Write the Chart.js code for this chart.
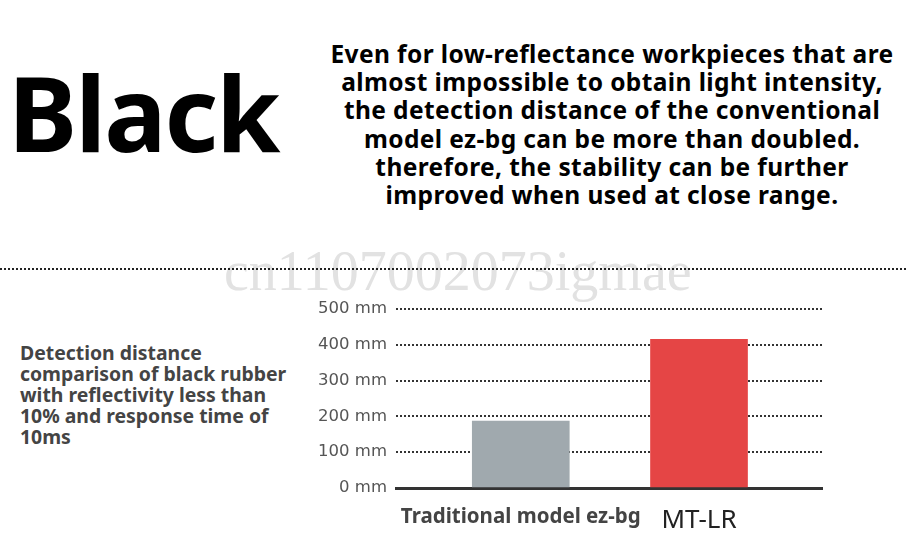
<!DOCTYPE html>
<html>
<head>
<meta charset="utf-8">
<script src="https://cdn.jsdelivr.net/npm/chart.js@4.4.0/dist/chart.umd.min.js"></script>
<style>
  html, body { margin:0; padding:0; background:#fff; }
  body { width:919px; height:544px; position:relative; overflow:hidden; font-family:"Noto Sans", sans-serif; }
  #big { position:absolute; left:8px; top:60px; font-size:104px; font-weight:700; color:#000; letter-spacing:-2px; line-height:1; }
  #head { position:absolute; left:262px; width:700px; top:40px; text-align:center; font-size:24.5px; font-weight:700; line-height:28.2px; color:#000; letter-spacing:0.4px; white-space:nowrap; }
  #side { position:absolute; left:20px; top:342px; width:300px; font-size:19.4px; font-weight:700; line-height:21px; color:#444; white-space:nowrap; }
  #wm { position:absolute; left:224px; top:239px; font-family:"Liberation Serif", serif; font-size:56px; color:#e2e2e2; white-space:nowrap; }
  #sep { position:absolute; left:0; top:268px; width:906px; border-top:2px dotted #222; }
  #wrap { position:absolute; left:300px; top:290px; width:540px; height:254px; }
</style>
</head>
<body>
<div id="big">Black</div>
<div id="head">Even for low-reflectance workpieces that are<br>almost impossible to obtain light intensity,<br>the detection distance of the conventional<br>model ez-bg can be more than doubled.<br>therefore, the stability can be further<br>improved when used at close range.</div>
<div id="side">Detection distance<br>comparison of black rubber<br>with reflectivity less than<br>10% and response time of<br>10ms</div>
<div id="wm">cn1107002073igmae</div>
<div id="sep"></div>
<div id="wrap"><canvas id="c"></canvas></div>
<script>
const categories = ["Traditional model ez-bg", "MT-LR"];
const distances = [187, 415];
const barColors = ["#a0a9ae", "#e54545"];
const yTicks = [0, 100, 200, 300, 400, 500];

new Chart(document.getElementById('c'), {
  type: 'bar',
  data: {
    datasets: [{
      data: distances.map((v, i) => ({ x: i, y: v })),
      backgroundColor: barColors,
      borderWidth: 0,
      barThickness: 97
    }]
  },
  options: {
    responsive: true,
    maintainAspectRatio: false,
    animation: false,
    layout: { padding: { top: 16, right: 18, left: 0, bottom: 0 } },
    plugins: { legend: { display: false }, tooltip: { enabled: false } },
    scales: {
      x: {
        type: 'linear',
        offset: false,
        bounds: 'data',
        min: -0.7,
        max: 1.69,
        afterBuildTicks: s => { s.ticks = categories.map((c, i) => ({ value: i })); },
        afterFit: s => { s.height = 56; },
        grid: { display: false, drawTicks: false, offset: false },
        border: { display: true, color: '#333', width: 3 },
        ticks: {
          padding: 17,
          maxRotation: 0,
          autoSkip: false,
          callback: v => categories[v],
          color: ctx => ctx.index === 0 ? '#444' : '#222',
          font: ctx => ctx.index === 0
            ? { family: 'Noto Sans', size: 20.5, weight: 'bold' }
            : { family: 'Noto Sans', size: 26, weight: 'normal' }
        }
      },
      y: {
        min: 0,
        max: 500,
        afterBuildTicks: s => { s.ticks = yTicks.map(v => ({ value: v })); },
        afterFit: s => { s.width = 96; },
        grid: {
          drawTicks: false,
          color: ctx => ctx.tick && ctx.tick.value === 0 ? 'rgba(0,0,0,0)' : '#333',
          lineWidth: 2
        },
        border: { display: false, dash: [2, 2] },
        ticks: {
          padding: 9,
          color: '#555',
          font: { family: 'DejaVu Sans', size: 16.5 },
          callback: v => v + ' mm'
        }
      }
    }
  }
});
</script>
</body>
</html>
